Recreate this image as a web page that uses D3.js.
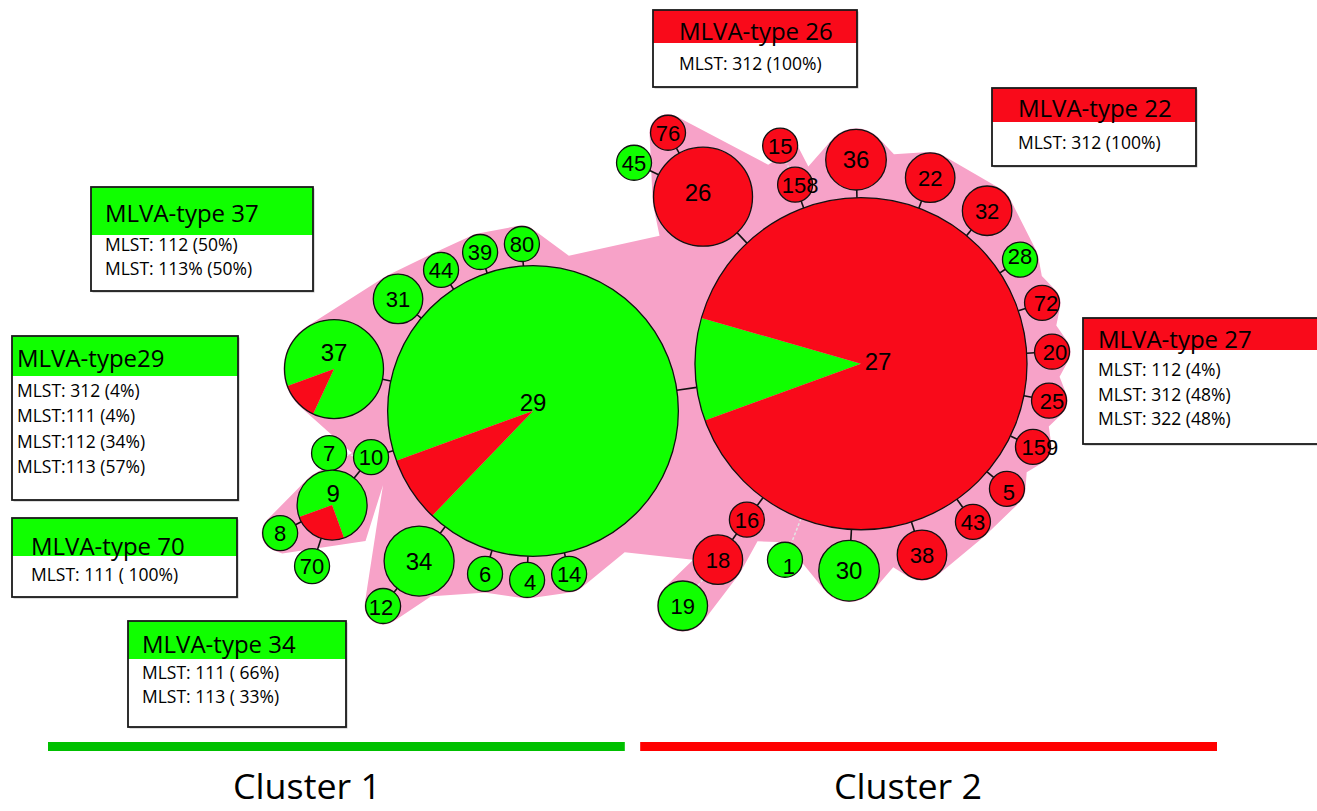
<!DOCTYPE html>
<html><head><meta charset="utf-8">
<script src="https://cdn.jsdelivr.net/npm/d3@7"></script>
<style>body{margin:0;background:#fff}svg{display:block}</style>
</head><body>
<svg id="chart" width="1317" height="811"></svg>
<script>
// ---------------- DATA ----------------
const nodeNames   = ["29","27","31","44","39","80","37","10","7","9","8","70","34","12","6","4","14",
                     "26","76","45","158","15","36","22","32","28","72","20","25","159","5","43","38","30","1","16","18","19"];
const greenCounts = [64, 9, 2, 1, 1, 1, 7, 1, 1, 3, 1, 1, 4, 1, 1, 1, 1,
                     0, 0, 1, 0, 0, 0, 0, 0, 1, 0, 0, 0, 0, 0, 0, 0, 3, 1, 0, 0, 2];
const redCounts   = [5, 81, 0, 0, 0, 0, 1, 0, 0, 1, 0, 0, 0, 0, 0, 0, 0,
                     8, 1, 0, 1, 1, 3, 2, 2, 0, 1, 1, 1, 1, 1, 1, 2, 0, 0, 1, 2, 0];
// minimum spanning tree: parent of each node
const parents     = [null,"29","29","29","29","29","29","29","10","10","9","9","29","34","29","29","29",
                     "27","26","26","27","158","27","27","27","27","27","27","27","27","27","27","27","27","27","27","16","18"];
// dashed / weak links (child names)
const weakLinks   = ["7","15","1","19"];

const boxTitles = ["MLVA-type 37","MLVA-type29","MLVA-type 70","MLVA-type 34","MLVA-type 26","MLVA-type 22","MLVA-type 27"];
const boxLines  = [
  ["MLST: 112 (50%)","MLST: 113% (50%)"],
  ["MLST: 312 (4%)","MLST:111 (4%)","MLST:112 (34%)","MLST:113 (57%)"],
  ["MLST: 111 ( 100%)"],
  ["MLST: 111 ( 66%)","MLST: 113 ( 33%)"],
  ["MLST: 312 (100%)"],
  ["MLST: 312 (100%)"],
  ["MLST: 112 (4%)","MLST: 312 (48%)","MLST: 322 (48%)"]
];
const boxCluster = [1,1,1,1,2,2,2];
const clusterNames = ["Cluster 1","Cluster 2"];

// ---------------- LAYOUT (tree drawing geometry) ----------------
const rootAt = [533, 411];
// direction (deg, screen) and edge gap from parent
const linkLayout = {
  "27":[-8.2,20],"31":[-140.3,5.3],"44":[-123.1,5.5],"39":[-108.4,4.7],"80":[-93.8,4.5],
  "37":[-168.1,8.5],"10":[164.1,5.5],"7":[185.4,7.2],"9":[129.1,9.3],"8":[151.7,6.5],"70":[108.2,11.7],
  "34":[127.2,8],"12":[128.7,5.1],"6":[106.4,7],"4":[92,6.2],"14":[77.5,4],
  "26":[-133.4,14.4],"76":[-118.7,5.9],"45":[-153.8,9.9],"158":[-110.2,7.3],"15":[-111,6.8],
  "36":[-91.4,7.8],"22":[-69.6,7.7],"32":[-50.5,7.5],"28":[-33.2,6.5],"72":[-18.6,7.5],"20":[-3.6,7.9],
  "25":[11.1,8.1],"159":[25.8,7.5],"5":[40.6,8.7],"43":[54.7,10.2],"38":[72.3,9.8],"30":[93.3,11],
  "1":[111.2,26.7],"16":[126.2,9.7],"18":[125.9,7.2],"19":[127.3,8.4]
};
const labelNudge = {"29":[0,-9],"27":[17,-2],"37":[0,-17],"9":[1,-12],"26":[-5,-4],"158":[5,0],"159":[7,0],
  "1":[4,6],"28":[0,-4],"72":[4,0],"20":[3,0],"25":[3,0],"5":[2,3],"4":[3,2],"12":[-2,1]};
// outline of the shaded complex: node names (tangent) or [node, angle, offset] anchor points
const hullSeq = [
 "37","31","44","39","80", ["29",-77,14], ["26",138,9], "26","76", ["15",122,5], ["15",0,0], ["158",-54,5],
 "36", ["36",-8,8], "22","32","28", ["27",-25.9,35], "72", ["27",-11.1,33], "20", ["27",3.75,33], "25",
 ["27",18.5,32], "159", ["27",33.2,32], "5","43","38", ["27",81,40], "30",
 ["1",15,2], ["1",-90,0], ["18",-25,19], "18","19", ["18",180,0], ["29",57,23],
 "14","4","6","34","12", ["10",67,13], ["9",47,14], ["8",84,3], "8","9", ["10",192,2]
];
const boxFrames = [ // x, y, w, h, header, textX, titleY, firstLineY, step
 [91,187,222,104,48,105,222,251,24],
 [12,336,226,164,40,17,367,397,25.3],
 [12,518,225,79,38,31,555,581,24],
 [128,621,218,106,38,142,653,679,24],
 [653,10,204,77,33,679,40,70,24],
 [992,88,204,78,34,1018,117,149,24],
 [1083,318,240,126,32,1098,348,376,24.5]
];
const clusterLabelCenters = [307, 908];

// ---------------- DRAW ----------------
const GREEN = "#10ff00", RED = "#f90a1a", PINK = "#f7a2c8";
const svg = d3.select("#chart");
const rScale = d3.scaleSqrt().domain([0,1]).range([0,17.5]);
const deg = Math.PI/180;

const nodes = nodeNames.map((n,i)=>({name:n, g:greenCounts[i], rd:redCounts[i], parent:parents[i]}));
const byName = {};
nodes.forEach(d=>{ d.n = d.g + d.rd; d.r = rScale(d.n); byName[d.name]=d; });
nodes.forEach(d=>{
  if(!d.parent){ d.x=rootAt[0]; d.y=rootAt[1]; return; }
  const p = byName[d.parent], L = linkLayout[d.name];
  const dist = p.r + d.r + L[1];
  d.x = p.x + dist*Math.cos(L[0]*deg);
  d.y = p.y + dist*Math.sin(L[0]*deg);
});

// hull
const pad = 1;
function itemCircle(it){
  if(typeof it === "string"){ const d=byName[it]; return {x:d.x,y:d.y,r:d.r+pad}; }
  const d = byName[it[0]], rr = d.r + it[2];
  return {x:d.x+rr*Math.cos(it[1]*deg), y:d.y+rr*Math.sin(it[1]*deg), r:0};
}
function tangent(c1,c2){
  const dx=c2.x-c1.x, dy=c2.y-c1.y, D=Math.hypot(dx,dy);
  const ux=dx/D, uy=dy/D, vx=uy, vy=-ux;
  let a=(c1.r-c2.r)/D; a=Math.max(-0.999,Math.min(0.999,a));
  const b=Math.sqrt(1-a*a);
  const nx=a*ux+b*vx, ny=a*uy+b*vy;
  return [[c1.x+c1.r*nx,c1.y+c1.r*ny],[c2.x+c2.r*nx,c2.y+c2.r*ny]];
}
const HC = hullSeq.map(itemCircle), N = HC.length;
const tg = HC.map((c,i)=>tangent(c, HC[(i+1)%N]));
const verts = [];
HC.forEach((c,i)=>{
  const entry = tg[(i-1+N)%N][1], exit = tg[i][0];
  if(c.r>0){
    const a0=Math.atan2(entry[1]-c.y,entry[0]-c.x), a1=Math.atan2(exit[1]-c.y,exit[0]-c.x);
    let sw=a1-a0; while(sw<0) sw+=2*Math.PI; while(sw>=2*Math.PI) sw-=2*Math.PI;
    if(sw<1.5*Math.PI){
      const steps=Math.max(2,Math.ceil(sw/0.1));
      for(let k=0;k<=steps;k++){ const a=a0+sw*k/steps; verts.push([c.x+c.r*Math.cos(a), c.y+c.r*Math.sin(a)]); }
    } else { verts.push(entry, exit); }
  } else verts.push([c.x,c.y]);
});
svg.append("path").attr("d", d3.line()(verts)+"Z").attr("fill",PINK).attr("stroke","none");

// links
nodes.filter(d=>d.parent).forEach(d=>{
  const p=byName[d.parent], dx=d.x-p.x, dy=d.y-p.y, D=Math.hypot(dx,dy), ux=dx/D, uy=dy/D;
  const weak = weakLinks.includes(d.name);
  svg.append("line")
    .attr("x1",p.x+p.r*ux).attr("y1",p.y+p.r*uy)
    .attr("x2",d.x-d.r*ux).attr("y2",d.y-d.r*uy)
    .attr("stroke", weak ? "#e4e4e4" : "#111")
    .attr("stroke-width", weak ? 1.5 : 1.6)
    .attr("stroke-dasharray", weak ? "3,2" : null);
});

// nodes
const pie = d3.pie().sort(null).startAngle(250*deg).endAngle(610*deg);
const arc = d3.arc().innerRadius(0);
const gN = svg.append("g");
nodes.forEach(d=>{
  const g = gN.append("g").attr("transform",`translate(${d.x},${d.y})`);
  if(d.g>0 && d.rd>0){
    pie([d.g,d.rd]).forEach((s,k)=>{
      g.append("path").attr("d", arc.outerRadius(d.r)(s)).attr("fill", k===0?GREEN:RED);
    });
    g.append("circle").attr("r",d.r).attr("fill","none").attr("stroke","#111").attr("stroke-width",1.3);
  } else {
    g.append("circle").attr("r",d.r).attr("fill", d.g>0?GREEN:RED).attr("stroke","#111").attr("stroke-width",1.3);
  }
  const nd = labelNudge[d.name] || [0,0];
  g.append("text").attr("x",nd[0]).attr("y",nd[1]).attr("dy","0.36em")
    .attr("text-anchor","middle")
    .attr("font-family","'Liberation Sans', Arial, sans-serif")
    .attr("font-size", d.n>=3 ? 24 : 22)
    .attr("fill","#000").text(d.name);
});

// annotation boxes
boxTitles.forEach((t,i)=>{
  const [x,y,w,h,hh,tx,ty,ly,st] = boxFrames[i];
  const g = svg.append("g");
  g.append("rect").attr("x",x+1.5).attr("y",y+1.5).attr("width",w).attr("height",h).attr("fill","#bbb");
  g.append("rect").attr("x",x).attr("y",y).attr("width",w).attr("height",h).attr("fill","#fff");
  g.append("rect").attr("x",x).attr("y",y).attr("width",w).attr("height",hh)
    .attr("fill", boxCluster[i]===1 ? GREEN : RED);
  g.append("rect").attr("x",x).attr("y",y).attr("width",w).attr("height",h)
    .attr("fill","none").attr("stroke","#1a1a1a").attr("stroke-width",1.8);
  g.append("text").attr("x",tx).attr("y",ty).attr("font-family","'Open Sans', sans-serif")
    .attr("font-size",24).attr("fill","#000").text(t);
  boxLines[i].forEach((l,k)=>{
    g.append("text").attr("x",tx).attr("y",ly+k*st).attr("font-family","'Open Sans', sans-serif")
      .attr("font-size",17.5).attr("fill","#000").text(l);
  });
});

// cluster bars
const xBand = d3.scaleBand().domain(clusterNames).range([48,1217]).paddingInner(0.026);
svg.selectAll("rect.bar").data(clusterNames).enter().append("rect").attr("class","bar")
  .attr("x",d=>xBand(d)).attr("y",742).attr("width",xBand.bandwidth()).attr("height",9)
  .attr("fill",(d,i)=>i===0?"#00c000":"#ff0000");
svg.selectAll("text.cl").data(clusterNames).enter().append("text").attr("class","cl")
  .attr("x",(d,i)=>clusterLabelCenters[i])
  .attr("y",799).attr("text-anchor","middle")
  .attr("font-family","'Open Sans', sans-serif").attr("font-size",34)
  .attr("textLength",148).attr("lengthAdjust","spacingAndGlyphs")
  .attr("fill","#000").text(d=>d);
</script>
</body></html>
